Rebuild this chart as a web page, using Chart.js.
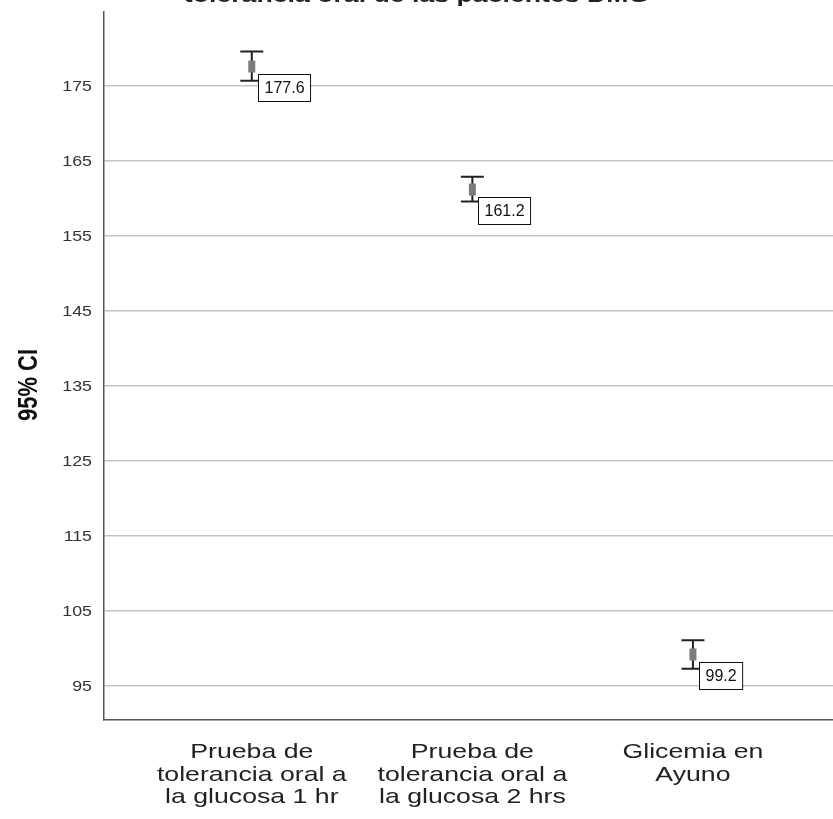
<!DOCTYPE html>
<html>
<head>
<meta charset="utf-8">
<script src="https://cdn.jsdelivr.net/npm/chart.js@4/dist/chart.umd.min.js"></script>
<style>
  html, body { margin: 0; padding: 0; background: #ffffff; overflow: hidden; }
  #wrap { width: 833px; height: 819px; }
  canvas { display: block; }
</style>
</head>
<body>
<div id="wrap"><canvas id="c" width="833" height="819"></canvas></div>
<script>
// Glucose test categories (multi-line axis labels)
const categories = [
  ["Prueba de", "tolerancia oral a", "la glucosa 1 hr"],
  ["Prueba de", "tolerancia oral a", "la glucosa 2 hrs"],
  ["Glicemia en", "Ayuno"]
];
// Means and 95% confidence interval limits
const means = [177.6, 161.2, 99.2];
const lowerCI = [175.7, 159.6, 97.3];
const upperCI = [179.6, 162.9, 101.1];
// Value axis tick marks
const yTicks = [95, 105, 115, 125, 135, 145, 155, 165, 175];

const chartTitle = "tolerancia oral de las pacientes DMG";
const yTitle = "95% CI";
const FONT = "Arial, 'Liberation Sans', sans-serif";
// Axis text is rendered slightly wide
const SX = 1.27;

const points = means.map((m, i) => ({ x: i + 1, y: m }));

function wideText(ctx, txt, x, y, align, baseline) {
  ctx.save();
  ctx.translate(x, y);
  ctx.scale(SX, 1);
  ctx.textAlign = align;
  ctx.textBaseline = baseline;
  ctx.fillText(txt, 0, 0);
  ctx.restore();
}

const errorBarPlugin = {
  id: 'errorBars',
  // Whiskers with caps, under the mean markers
  beforeDatasetsDraw(chart) {
    const { ctx, scales: { x, y } } = chart;
    ctx.save();
    ctx.strokeStyle = '#222222';
    ctx.lineWidth = 2;
    const capHalf = 11.5;
    means.forEach((m, i) => {
      const px = x.getPixelForValue(i + 1);
      const yl = y.getPixelForValue(lowerCI[i]);
      const yu = y.getPixelForValue(upperCI[i]);
      ctx.beginPath();
      ctx.moveTo(px, yu); ctx.lineTo(px, yl);
      ctx.moveTo(px - capHalf, yu); ctx.lineTo(px + capHalf, yu);
      ctx.moveTo(px - capHalf, yl); ctx.lineTo(px + capHalf, yl);
      ctx.stroke();
    });
    ctx.restore();
  },
  // Boxed value labels next to each mean
  afterDatasetsDraw(chart) {
    const { ctx, scales: { x, y } } = chart;
    ctx.save();
    ctx.font = '16px ' + FONT;
    ctx.textBaseline = 'middle';
    ctx.textAlign = 'left';
    means.forEach((m, i) => {
      const px = x.getPixelForValue(i + 1);
      const py = y.getPixelForValue(m);
      const txt = m.toFixed(1);
      const w = ctx.measureText(txt).width + 12;
      const h = 27;
      const bx = Math.round(px + 6) + 0.5;
      const by = Math.round(py + 7) + 0.5;
      ctx.fillStyle = '#ffffff';
      ctx.fillRect(bx, by, w, h);
      ctx.strokeStyle = '#111111';
      ctx.lineWidth = 1;
      ctx.strokeRect(bx, by, w, h);
      ctx.fillStyle = '#111111';
      ctx.fillText(txt, bx + 6, by + h / 2 + 1);
    });
    ctx.restore();
  },
  // Axis labels, axis title and heading
  afterDraw(chart) {
    const { ctx, width, scales: { x, y } } = chart;
    ctx.save();

    // category labels
    ctx.fillStyle = '#222222';
    ctx.font = '21px ' + FONT;
    categories.forEach((lines, i) => {
      const px = x.getPixelForValue(i + 1);
      lines.forEach((line, k) => {
        wideText(ctx, line, px, x.top + 38 + k * 22.5, 'center', 'alphabetic');
      });
    });

    // value tick labels
    ctx.fillStyle = '#333333';
    ctx.font = '14px ' + FONT;
    yTicks.forEach(v => {
      wideText(ctx, String(v), y.right - 12, y.getPixelForValue(v) + 1, 'right', 'middle');
    });

    // value axis title
    ctx.fillStyle = '#111111';
    ctx.font = 'bold 22px ' + FONT;
    ctx.save();
    ctx.translate(29, 385);
    ctx.scale(SX, 1);
    ctx.rotate(-Math.PI / 2);
    ctx.textAlign = 'center';
    ctx.textBaseline = 'middle';
    ctx.fillText(yTitle, 0, 0);
    ctx.restore();

    // heading, mostly above the top edge
    ctx.fillStyle = '#222222';
    ctx.font = 'bold 21px ' + FONT;
    wideText(ctx, chartTitle, width / 2, 1.5, 'center', 'alphabetic');

    ctx.restore();
  }
};

new Chart(document.getElementById('c'), {
  type: 'scatter',
  data: {
    datasets: [{
      label: 'Media',
      data: points,
      pointStyle: 'line',
      rotation: 90,
      radius: 6,
      hoverRadius: 6,
      borderWidth: 7,
      borderColor: '#7c7c7c',
      backgroundColor: '#7c7c7c'
    }]
  },
  options: {
    responsive: false,
    animation: false,
    events: [],
    layout: { autoPadding: false, padding: { top: 12, right: 0, left: 0, bottom: 0 } },
    plugins: {
      legend: { display: false },
      tooltip: { enabled: false },
      title: { display: false }
    },
    scales: {
      x: {
        type: 'linear',
        min: 0.33,
        max: 3.635,
        afterBuildTicks(scale) {
          scale.ticks = categories.map((c, i) => ({ value: i + 1 }));
        },
        afterFit(scale) {
          scale.height = 99;
          scale.paddingLeft = 0;
          scale.paddingRight = 0;
        },
        ticks: { display: false },
        grid: { display: false, drawTicks: false },
        border: { display: true, color: '#555555', width: 1.5 }
      },
      y: {
        type: 'linear',
        min: 90.47,
        max: 184.87,
        afterBuildTicks(scale) {
          scale.ticks = yTicks.map(v => ({ value: v }));
        },
        afterFit(scale) {
          scale.width = 104;
          scale.paddingTop = 0;
          scale.paddingBottom = 0;
        },
        ticks: { display: false },
        grid: { color: '#c4c4c4', lineWidth: 1.5, drawTicks: false },
        border: { display: true, color: '#555555', width: 1.5 }
      }
    }
  },
  plugins: [errorBarPlugin]
});
</script>
</body>
</html>
